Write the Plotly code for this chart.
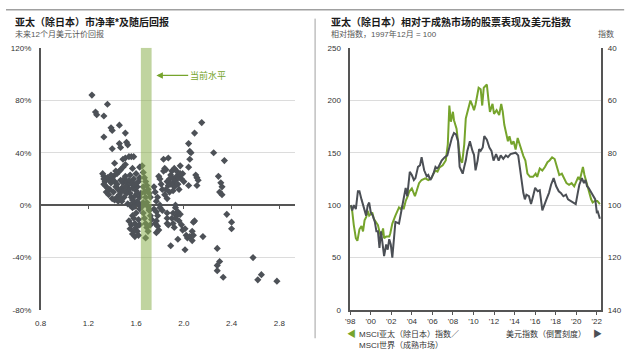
import plotly.graph_objects as go

# ---------------- Left chart: P/B vs subsequent 12m return ----------------
pb = [
    1.23, 1.26, 1.27, 1.33, 1.36, 1.39, 1.40, 1.46, 1.51, 1.33, 1.40, 1.46, 1.47, 1.52, 1.53, 1.42, 1.49, 1.51, 1.54, 1.56, 1.58, 1.47, 1.49, 1.51, 1.57, 1.63,
    1.32, 1.33, 1.33, 1.34, 1.33, 1.34, 1.36, 1.38, 1.39, 1.40, 1.41, 1.42, 1.43, 1.44, 1.45, 1.41, 1.40, 1.42, 1.44, 1.46, 1.47, 1.48, 1.49, 1.50,
    1.51, 1.52, 1.53, 1.54, 1.55, 1.56, 1.57, 1.58, 1.59, 1.60, 1.61, 1.62, 1.63, 1.60, 1.58, 1.56, 1.55, 1.52, 1.50, 1.48, 1.53, 1.55, 1.57, 1.59,
    1.61, 1.63, 1.64, 1.62, 1.63, 1.35, 1.37, 1.38, 1.44, 1.46, 1.36, 1.39, 1.43, 1.47, 1.49, 1.51, 1.54, 1.57, 1.59, 1.61, 1.45, 1.47,
    1.54, 1.56, 1.55, 1.57, 1.58, 1.59, 1.60, 1.61, 1.62, 1.60, 1.62, 1.63, 1.58, 1.59, 1.57,
    1.65, 1.66, 1.67, 1.68, 1.69, 1.70, 1.71, 1.72, 1.66, 1.67, 1.68, 1.69, 1.70, 1.71, 1.72, 1.73, 1.66, 1.67, 1.68, 1.69, 1.70, 1.71, 1.66, 1.65, 1.68, 1.72,
    1.79, 1.80, 1.82, 1.83, 1.84, 1.85, 1.83, 1.87, 1.86, 1.87, 1.88, 1.89, 1.90, 1.91, 1.92, 1.93, 1.94, 1.95, 1.96, 1.97, 1.98, 1.99, 2.00, 1.90,
    1.92, 1.94, 1.88, 1.84, 1.86, 1.78, 1.76, 1.75, 1.77, 2.04, 2.05, 2.06, 2.09, 2.15, 2.05, 2.04, 2.10, 2.11, 2.12, 2.04, 2.11, 2.25, 2.34, 2.29,
    2.31, 2.32, 2.30, 2.32, 1.80, 1.93, 1.81, 1.85, 1.89, 1.91, 1.96, 1.97,
    1.75, 1.77, 1.78, 1.77, 1.78, 1.79, 1.77, 1.76, 1.80, 1.82, 1.86, 1.86, 1.86, 1.87, 1.89, 1.90, 1.91, 1.92, 1.93, 1.94, 1.95, 1.96, 1.97, 1.98,
    1.99, 1.95, 2.01, 2.01, 2.02, 2.03, 2.05, 2.07, 2.08, 2.07, 2.08, 2.09, 2.16, 2.36, 2.40, 2.40, 2.28, 2.58, 2.30, 2.28, 2.28, 2.33, 2.65, 2.62,
    2.78, 1.93, 1.91,
]
fwd_return = [
    84, 71, 69, 68, 77, 59, 57, 61, 55, 52, 43, 47, 44, 48, 46, 32, 35, 36, 37, 37, 37, 27, 29, 31, 28, 29,
    24, 22, 20, 18, 16, 15, 21, 19, 17, 20, 22, 18, 14, 16, 12, 10, 5, 4, 6, 8, 10, 13, 17, 20,
    22, 18, 15, 12, 9, 6, 4, 2, 7, 11, 14, 18, 21, 24, 20, 17, 23, 9, 6, 3, 1, 0, -2, -1,
    3, 6, 9, 1, -3, 10, 8, 12, 24, 26, 13, 23, 26, 19, 11, 14, 19, 13, 16, 9, 3, 5,
    -12, -15, -18, -8, -10, -14, -17, -20, -23, -6, -11, -15, -20, -24, -22,
    30, 25, 21, 18, 15, 12, 9, 6, 14, 10, 6, 2, -1, -4, -8, -11, -6, -10, -14, -17, -20, -3, 2, -1, -25, -15,
    22, 20, 12, 26, 28, 27, 35, 36, 18, 15, 20, 23, 21, 17, 14, 19, 22, 16, 12, 30, 20, 24, 18, 26,
    28, 26, 10, 8, 5, 6, 10, 14, 3, 47, 41, 40, 55, 63, 35, 29, 23, 21, 19, 15, 15, 40, 34, 22,
    17, 14, 10, 8, 0, 0, 16, 12, 16, 11, 21, 24,
    -3, -5, -8, -12, -16, -19, -21, -14, -2, -4, -6, -10, -14, -15, -31, -10, -14, -17, -2, -8, -5, -12, -7, -15,
    -19, -26, -18, -34, -23, -25, -24, -27, -23, -20, -13, -12, -24, -7, -13, -18, -33, -40, -43, -46, -50, -55, -53, -57,
    -58, -10, -6,
]
current_band = [1.64, 1.73]
x_ticks_left = [0.8, 1.2, 1.6, 2.0, 2.4, 2.8]
y_ticks_left = [-80, -40, 0, 40, 80, 120]

# ---------------- Right chart: relative performance & USD index ----------------
rel_t = [1998.05, 1998.2, 1998.35, 1998.55, 1998.7, 1998.9, 1999.1, 1999.25, 1999.4, 1999.55, 1999.7, 1999.85, 2000.15, 2000.3, 2000.5, 2000.7,
         2000.85, 2001.0, 2001.2, 2001.3, 2001.5, 2001.8, 2001.9, 2002.1, 2002.4, 2002.6, 2002.75, 2002.9, 2003.1, 2003.2, 2003.4, 2003.6,
         2003.75, 2004.0, 2004.2, 2004.3, 2004.45, 2004.7, 2004.95, 2005.3, 2005.6, 2005.9, 2006.1, 2006.3, 2006.5, 2006.7, 2007.0, 2007.3,
         2007.5, 2007.65, 2007.8, 2008.0, 2008.1, 2008.35, 2008.6, 2008.75, 2008.9, 2009.1, 2009.25, 2009.5, 2009.7, 2009.9, 2010.05, 2010.2,
         2010.5, 2010.7, 2010.85, 2011.0, 2011.3, 2011.45, 2011.6, 2011.85, 2012.0, 2012.25, 2012.5, 2012.7, 2012.85, 2013.0, 2013.2, 2013.35,
         2013.5, 2013.7, 2013.9, 2014.1, 2014.3, 2014.5, 2014.65, 2014.85, 2015.05, 2015.25, 2015.5, 2015.8, 2016.05, 2016.2, 2016.45, 2016.7,
         2016.95, 2017.2, 2017.4, 2017.65, 2017.9, 2018.15, 2018.35, 2018.6, 2018.85, 2019.05, 2019.3, 2019.55, 2019.8, 2020.0, 2020.2, 2020.35,
         2020.5, 2020.65, 2020.8, 2021.0, 2021.15, 2021.3, 2021.45, 2021.6, 2021.8, 2022.05, 2022.3]
rel_perf = [100, 94, 81, 68.5, 66, 77, 80, 75, 85.5, 88.6, 94.7, 90, 93, 87, 84, 81,
            74.7, 70, 77.8, 68.5, 70, 70, 73, 82.4, 90, 94.7, 97.8, 96.4, 99.4, 96, 104, 108.6,
            113, 116, 111.8, 108.6, 113, 121, 124, 125.6, 124, 125.6, 130, 133, 132, 136, 138, 142.6,
            158, 195, 179.6, 189, 181, 173, 152, 142.6, 140.6, 158, 182.7, 192, 199.7, 195, 190.5, 196,
            212, 210.5, 195, 212, 215, 201, 189, 196.6, 187, 190.5, 186, 196.6, 189, 176.6, 167, 161,
            165.7, 158, 161, 153, 164, 158, 152, 147, 142.6, 130, 127, 127, 130, 127, 135, 133,
            136.4, 141, 142.6, 145.6, 144, 136.4, 128.7, 130, 125.6, 121, 119.4, 121, 118, 122.5, 127, 124,
            130, 136.4, 128.7, 121, 116.4, 111.8, 105.6, 102.5, 104, 104, 101]

usd_t = [1998.05, 1998.2, 1998.35, 1998.55, 1998.75, 1998.9, 1999.1, 1999.25, 1999.4, 1999.55, 1999.7, 1999.85, 2000.0, 2000.2, 2000.4, 2000.55,
         2000.7, 2000.85, 2001.0, 2001.15, 2001.3, 2001.5, 2001.65, 2001.8, 2001.95, 2002.1, 2002.25, 2002.4, 2002.75, 2002.9, 2003.1, 2003.2,
         2003.4, 2003.55, 2003.8, 2004.0, 2004.2, 2004.35, 2004.6, 2004.8, 2004.95, 2005.2, 2005.45, 2005.6, 2005.8, 2005.9, 2006.1, 2006.3,
         2006.45, 2006.6, 2006.9, 2007.2, 2007.45, 2007.65, 2007.9, 2008.1, 2008.3, 2008.5, 2008.65, 2008.8, 2008.95, 2009.1, 2009.25, 2009.4,
         2009.65, 2009.9, 2010.05, 2010.2, 2010.4, 2010.55, 2010.7, 2010.9, 2011.05, 2011.3, 2011.55, 2011.75, 2011.95, 2012.2, 2012.45, 2012.65,
         2012.9, 2013.15, 2013.35, 2013.6, 2013.85, 2014.1, 2014.35, 2014.5, 2014.65, 2014.85, 2015.0, 2015.15, 2015.4, 2015.6, 2015.8, 2016.0,
         2016.25, 2016.45, 2016.7, 2016.85, 2017.1, 2017.35, 2017.55, 2017.8, 2018.05, 2018.3, 2018.5, 2018.75, 2019.0, 2019.2, 2019.45, 2019.7,
         2019.95, 2020.15, 2020.3, 2020.55, 2020.75, 2020.9, 2021.05, 2021.2, 2021.45, 2021.7, 2021.85, 2022.0, 2022.1, 2022.3]
usd_index = [100, 102, 100, 101.5, 94.7, 94.7, 97.8, 100.2, 102.7, 104, 100.2, 99, 102.7, 104, 106.4, 110,
             110, 116.3, 110, 115, 119.4, 115, 117, 113, 115, 120, 112.6, 106.4, 107, 104, 100.2, 97.8,
             93.4, 96.6, 87.3, 88.5, 90.4, 89.7, 85.4, 84.8, 81.7, 86.7, 89, 88.5, 90.4, 89.7, 88, 85.4,
             86, 85.4, 83, 81.7, 81, 78, 74.3, 72.5, 73, 75.6, 85.4, 86.7, 88, 85.4, 83, 79.3,
             75.6, 79.3, 80.8, 86.7, 83, 78.6, 79.3, 78, 73.7, 75, 78, 79.3, 83, 80.5, 83, 81,
             82.3, 81, 81.7, 80.5, 80.3, 80, 81, 85.4, 89, 95.3, 97.8, 96, 96.6, 99.6, 96.6, 93.4,
             94.7, 94.3, 102, 100.2, 97.8, 95.3, 92.2, 89.7, 92.8, 94.7, 95.3, 96.6, 96, 97.8, 98.4, 99,
             99.6, 95.3, 92.2, 89.7, 91.6, 90.4, 92.8, 93.4, 95.3, 96.6, 97.8, 102.7, 102.5, 105.2]

year_ticks = list(range(1998, 2023, 2))
year_labels = ["'" + str(y)[2:] for y in year_ticks]
y_ticks_rel = [0, 50, 100, 150, 200, 250]
y_ticks_usd = [40, 60, 80, 100, 120, 140]

# ---------------- Styling ----------------
FONT = "Liberation Sans, Arial, Noto Sans CJK SC, sans-serif"
GREEN = "#76a42c"
DARK = "#4b4f55"
AXIS = "#555555"
GRID = "#dcdcdc"
W, H = 640, 354

def px(x):
    return x / W

def py(y):
    return 1 - y / H

y_dom = [py(314), py(45)]
x_dom_l = [px(35), px(292)]
x_dom_r = [px(348), px(602)]

fig = go.Figure()

fig.add_trace(go.Scatter(
    x=pb, y=fwd_return, mode="markers", xaxis="x", yaxis="y",
    marker=dict(symbol="diamond", size=5.5, color="#4d5157", line=dict(width=0)),
    showlegend=False, hoverinfo="skip"))
# dummy trace to make the zero-line tick axis render
fig.add_trace(go.Scatter(x=[None], y=[None], xaxis="x3", yaxis="y", showlegend=False))

fig.add_trace(go.Scatter(
    x=rel_t, y=rel_perf, mode="lines", xaxis="x2", yaxis="y2",
    line=dict(color=GREEN, width=2), showlegend=False, hoverinfo="skip"))
fig.add_trace(go.Scatter(
    x=usd_t, y=usd_index, mode="lines", xaxis="x2", yaxis="y3",
    line=dict(color=DARK, width=2), showlegend=False, hoverinfo="skip"))

tickfont = dict(family=FONT, size=8, color="#333333")
left_range_x = [0.8, 2.93]

fig.update_layout(
    width=W, height=H, margin=dict(l=0, r=0, t=0, b=0),
    paper_bgcolor="white", plot_bgcolor="white",
    font=dict(family=FONT, size=8, color="#333333"),
    xaxis=dict(domain=x_dom_l, anchor="y", range=left_range_x, tickvals=x_ticks_left,
               ticktext=[f"{v:.1f}" for v in x_ticks_left], showgrid=False, zeroline=False,
               showline=False, ticks="outside", ticklen=5, tickcolor="rgba(0,0,0,0)",
               tickfont=tickfont),
    xaxis3=dict(overlaying="x", anchor="free", position=y_dom[0] + 0.4 * (y_dom[1] - y_dom[0]),
                range=left_range_x, tickvals=x_ticks_left, showticklabels=False, showgrid=False,
                zeroline=False, showline=False, ticks="outside", ticklen=3, tickcolor=AXIS,
                side="bottom"),
    yaxis=dict(domain=y_dom, anchor="x", range=[-80, 120], tickvals=y_ticks_left,
               ticktext=[f"{v}%" for v in y_ticks_left], showgrid=True, gridcolor=GRID,
               gridwidth=1, zeroline=True, zerolinecolor=AXIS, zerolinewidth=1.5,
               showline=True, linecolor=AXIS, linewidth=1.5, ticks="outside", ticklen=6,
               tickcolor="rgba(0,0,0,0)", tickfont=tickfont),
    xaxis2=dict(domain=x_dom_r, anchor="y2", range=[1998.0, 2022.45], tickvals=year_ticks,
                ticktext=year_labels, showgrid=False, zeroline=False, showline=True,
                linecolor=AXIS, linewidth=1.5, ticks="outside", ticklen=3, tickcolor=AXIS,
                tickfont=tickfont),
    yaxis2=dict(domain=y_dom, anchor="x2", range=[0, 250], tickvals=y_ticks_rel,
                showgrid=True, gridcolor=GRID, zeroline=False, showline=True, linecolor=AXIS,
                linewidth=1.5, ticks="outside", ticklen=6, tickcolor="rgba(0,0,0,0)",
                tickfont=tickfont),
    yaxis3=dict(overlaying="y2", anchor="x2", side="right", range=[140, 40],
                tickvals=y_ticks_usd, showgrid=False, zeroline=False, showline=True,
                linecolor=AXIS, linewidth=1.5, ticks="outside", ticklen=3,
                tickcolor="rgba(0,0,0,0)", tickfont=tickfont),
)

shapes = [
    dict(type="rect", xref="x", yref="y", x0=current_band[0], x1=current_band[1], y0=-80, y1=120,
         fillcolor="#8cb050", opacity=0.55, line=dict(width=0), layer="above"),
    dict(type="line", xref="paper", yref="paper", x0=0, x1=px(625), y0=py(6), y1=py(6),
         line=dict(color="#a0a0a0", width=1.5)),
    dict(type="line", xref="paper", yref="paper", x0=px(312.5), x1=px(312.5), y0=py(15), y1=py(343),
         line=dict(color="#a0a0a0", width=1)),
]
fig.update_layout(shapes=shapes)

ann = []
def text(x, y, s, size=8, color="#333333", xanchor="left", bold=False):
    ann.append(dict(xref="paper", yref="paper", x=px(x), y=py(y), text=f"<b>{s}</b>" if bold else s,
                    showarrow=False, xanchor=xanchor, yanchor="middle",
                    font=dict(family=FONT, size=size, color=color)))

text(7, 18, "亚太（除日本）市净率*及随后回报", size=10, color="#1a1a1a", bold=True)
text(7, 31, "未来12个月美元计价回报", size=8, color="#555555")
text(327, 18, "亚太（除日本）相对于成熟市场的股票表现及美元指数", size=10, color="#1a1a1a", bold=True)
text(327, 31, "相对指数，1997年12月 = 100", size=8, color="#555555")
text(607, 31, "指数", size=8, color="#555555", xanchor="center")

text(343, 339, "◀", size=9, color=GREEN)
text(355, 339, "MSCI亚太（除日本）指数／", size=8)
text(355, 350, "MSCI世界（成熟市场）", size=8)
text(588, 339, "美元指数（倒置刻度）", size=8, xanchor="right")
text(591, 339, "▶", size=9, color=DARK)

# "current level" arrow annotation
ann.append(dict(xref="x", yref="y", x=1.77, y=99, axref="x", ayref="y", ax=2.2, ay=99,
                text="当前水平", showarrow=True, arrowhead=2, arrowsize=1, arrowwidth=1.3,
                arrowcolor=GREEN, font=dict(family=FONT, size=9, color=GREEN)))
fig.update_layout(annotations=ann)

fig.write_html("out.html")
